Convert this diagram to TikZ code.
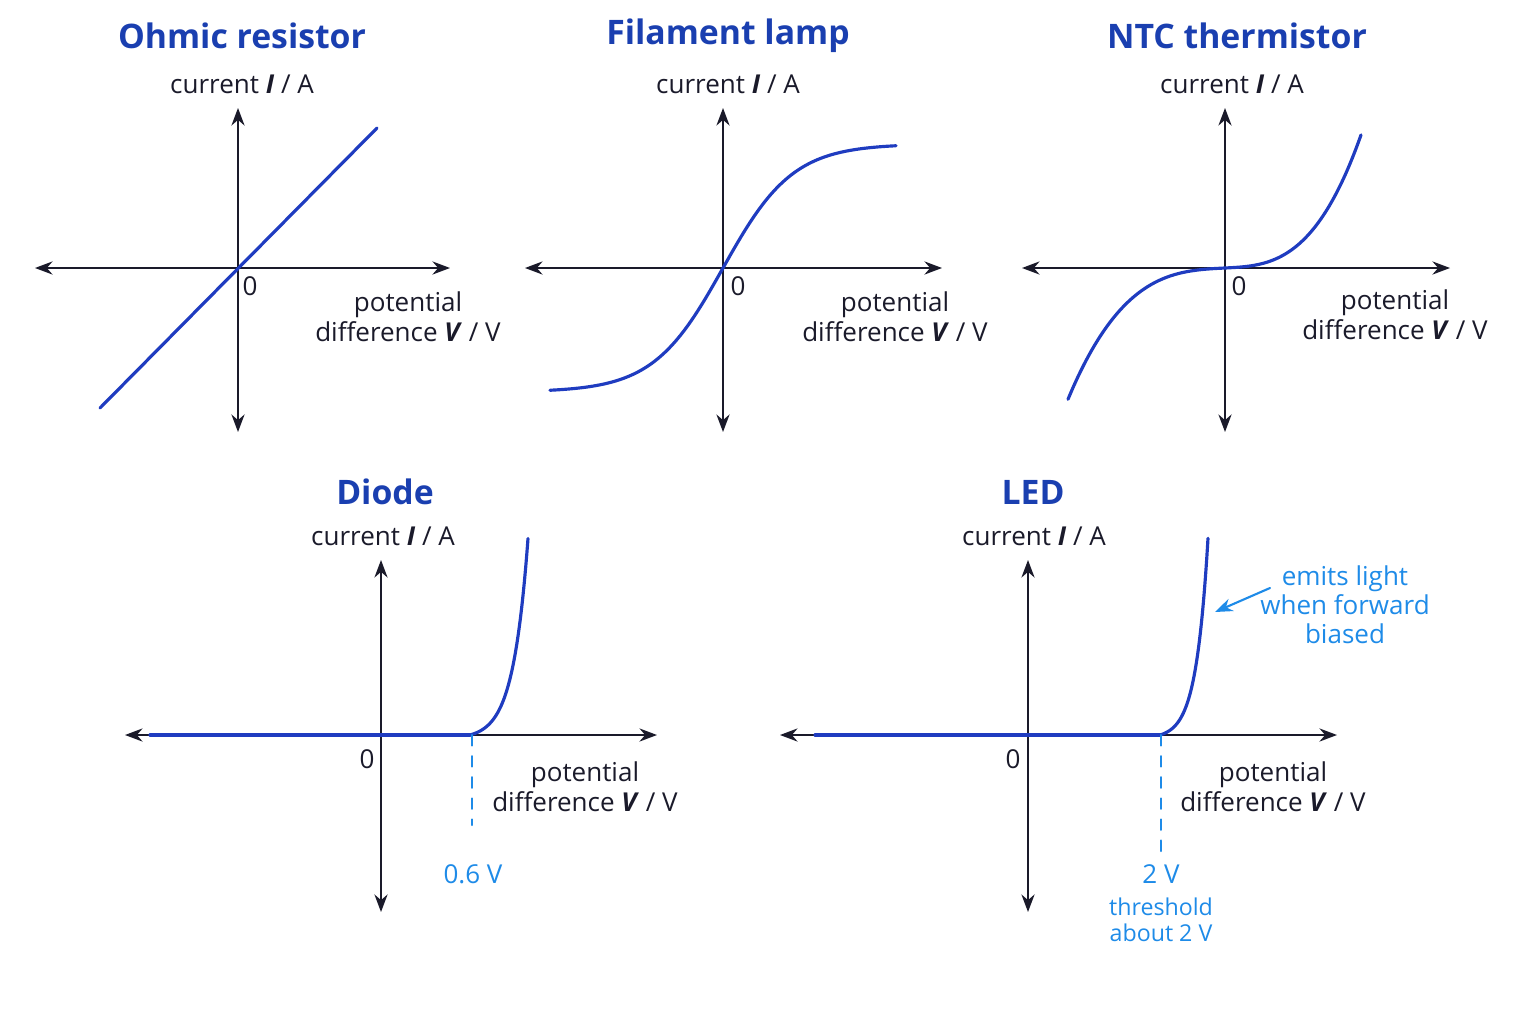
\documentclass[tikz,border=0pt]{standalone}
\usepackage{fontspec}
\setmainfont{Open Sans}
\usetikzlibrary{arrows.meta}
\definecolor{ttl}{HTML}{1A3FB0}
\definecolor{crv}{HTML}{1F3CC0}
\definecolor{note}{HTML}{1E8BE8}
\definecolor{axc}{HTML}{1A1A2A}
\tikzset{
  ax/.style={axc,line width=0.5pt,{Stealth[length=5pt]}-{Stealth[length=5pt]}},
  crvline/.style={crv,line width=0.9pt},
  title/.style={ttl,font=\bfseries\fontsize{9.6}{11}\selectfont},
  lbl/.style={axc,font=\fontsize{7.4}{8.6}\selectfont,align=center},
  nt/.style={note,font=\fontsize{7.4}{8.6}\selectfont,align=center}
}
\newcommand{\ivax}[6]{% origin x,y ; xl xr ; yt yb
  \draw[ax] (#3,#2)--(#4,#2);
  \draw[ax] (#1,#5)--(#1,#6);
}
\begin{document}
\begin{tikzpicture}[x=0.01cm,y=-0.01cm,line join=round,line cap=round]
\useasboundingbox (0,0) rectangle (1536,1024);
% Ohmic resistor
\node[title] (t1) at (242,36) {Ohmic resistor};
\node[lbl] (c1) at (242,84) {current \textit{\textbf{I}} / A};
\ivax{238}{268}{35}{450}{108}{432}
\draw[crvline] (100,408)--(377,128);
\node[lbl] (z1) at (250,286) {0};
\node[lbl] (p1) at (408,317) {potential\\difference \textit{\textbf{V}} / V};
% Filament lamp
\node[title] (t2) at (728,36) {Filament lamp};
\node[lbl] (c2) at (728,84) {current \textit{\textbf{I}} / A};
\ivax{723}{268}{525}{942}{108}{432}
\draw[crvline,samples=120,smooth,domain=-173:173] plot ({723+\x},{268-124*tanh(\x/70)});
\node[lbl] (z2) at (738,286) {0};
\node[lbl] (p2) at (895,317) {potential\\difference \textit{\textbf{V}} / V};
% NTC thermistor
\node[title] (t3) at (1237,36) {NTC thermistor};
\node[lbl] (c3) at (1232,84) {current \textit{\textbf{I}} / A};
\ivax{1225}{268}{1022}{1450}{108}{432}
\draw[crvline,samples=80,smooth,domain=-157:0] plot ({1225+\x},{268-0.05*\x-31.9*(\x/100)^3});
\draw[crvline,samples=80,smooth,domain=0:136] plot ({1225+\x},{268-0.05*\x-50.2*(\x/100)^3});
\node[lbl] (z3) at (1239,286) {0};
\node[lbl] (p3) at (1395,315) {potential\\difference \textit{\textbf{V}} / V};
% Diode
\node[title] (t4) at (385,492) {Diode};
\node[lbl] (c4) at (383,536) {current \textit{\textbf{I}} / A};
\ivax{381}{735}{125}{657}{560}{912}
\draw[crvline] (150,735)--(470,735);
\draw[crvline,samples=80,smooth,domain=0:58] plot ({470+\x},{735-4.2*(exp(\x/15)-1)});
\coordinate (k4) at (472,735);
\node[nt] (v4) at (473,874) {0.6 V};
\draw[note,dashed,line width=0.6pt] (k4)--(472,825);
\node[lbl] (z4) at (367,759) {0};
\node[lbl] (p4) at (585,787) {potential\\difference \textit{\textbf{V}} / V};
% LED
\node[title] (t5) at (1033,492) {LED};
\node[lbl] (c5) at (1034,536) {current \textit{\textbf{I}} / A};
\ivax{1028}{735}{780}{1337}{560}{912}
\draw[crvline] (815,735)--(1160,735);
\draw[crvline,samples=80,smooth,domain=0:48] plot ({1160+\x},{735-3.67*(exp(\x/12)-1)});
\coordinate (k5) at (1161,735);
\node[nt] (v5) at (1161,874) {2 V};
\draw[note,dashed,line width=0.6pt] (k5)--(1161,855);
\node[nt,font=\fontsize{6.6}{7.4}\selectfont] (th5) at (1161,920) {threshold\\about 2 V};
\node[lbl] (z5) at (1013,759) {0};
\node[lbl] (p5) at (1273,787) {potential\\difference \textit{\textbf{V}} / V};
\node[nt,font=\fontsize{7.4}{8.2}\selectfont] (e5) at (1345,605) {emits light\\when forward\\biased};
\coordinate (a5) at (1215,612);
\draw[note,line width=0.6pt,-{Stealth[length=5pt]}] (1270,588)--(a5);
\end{tikzpicture}
\end{document}
